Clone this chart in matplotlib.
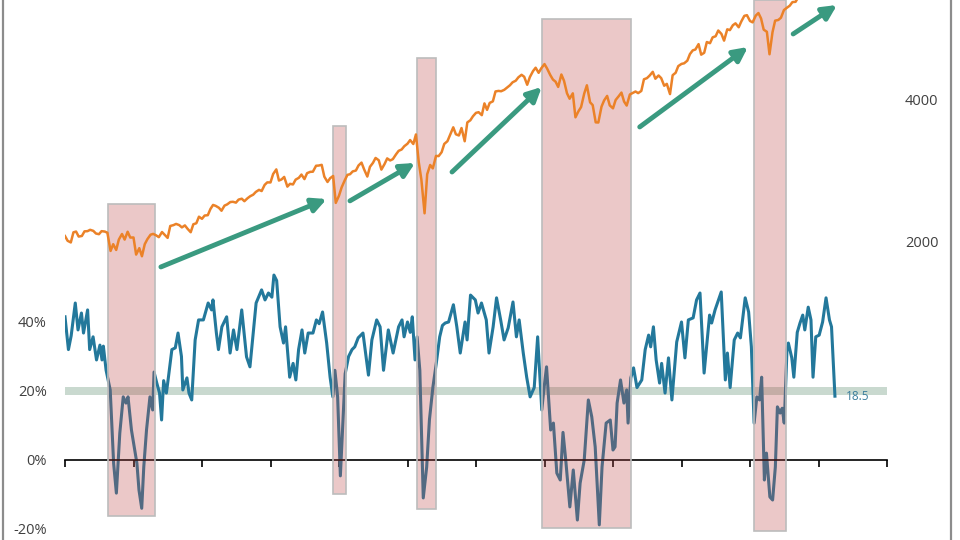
import pandas as pd
import matplotlib
matplotlib.use('Agg')
import matplotlib.pyplot as plt
from matplotlib.lines import Line2D
from matplotlib.ticker import NullLocator, NullFormatter

plt.rcParams['font.family'] = ['Open Sans', 'DejaVu Sans']

# S&P 500, semi-monthly (1st / 15th), starting Jan 2015
spx = [
    2058, 2011, 1995, 2096, 2104, 2053, 2059, 2106, 2108, 2122, 2111, 2084,
    2077, 2108, 2104, 2092, 1914, 1978, 1923, 2023, 2079, 2023, 2102, 2043,
    2044, 1880, 1940, 1865, 1978, 2027, 2072, 2080, 2065, 2047, 2099, 2071,
    2040, 2162, 2171, 2184, 2171, 2147, 2168, 2133, 2097, 2180, 2191, 2262,
    2239, 2275, 2279, 2349, 2396, 2385, 2363, 2329, 2388, 2402, 2430, 2433,
    2423, 2459, 2470, 2440, 2476, 2500, 2519, 2553, 2579, 2564, 2642, 2675,
    2674, 2786, 2850, 2699, 2714, 2747, 2620, 2656, 2648, 2711, 2735, 2779,
    2718, 2798, 2816, 2818, 2901, 2904, 2914, 2751, 2680, 2730, 2760, 2420,
    2507, 2610, 2704, 2775, 2784, 2822, 2834, 2905, 2946, 2850, 2752, 2886,
    2942, 3014, 2980, 2847, 2926, 3007, 2977, 2996, 3067, 3120, 3141, 3191,
    3231, 3289, 3226, 3380, 2954, 2711, 2300, 2783, 2912, 2864, 3044, 3041,
    3100, 3227, 3271, 3373, 3500, 3383, 3363, 3488, 3270, 3585, 3622, 3694,
    3756, 3768, 3714, 3934, 3811, 3943, 3973, 4170, 4181, 4174, 4204, 4247,
    4298, 4360, 4395, 4468, 4523, 4480, 4308, 4471, 4605, 4682, 4567, 4669,
    4766, 4662, 4516, 4419, 4374, 4263, 4530, 4393, 4132, 4024, 4132, 3675,
    3785, 3863, 4130, 4297, 3955, 3901, 3586, 3583, 3872, 3992, 4080, 3895,
    3840, 3999, 4077, 4147, 3970, 3892, 4109, 4137, 4169, 4136, 4180, 4425,
    4450, 4505, 4589, 4437, 4508, 4450, 4288, 4327, 4117, 4514, 4568, 4719,
    4770, 4784, 4846, 5005, 5096, 5117, 5254, 4990, 5036, 5308, 5278, 5431,
    5460, 5615, 5522, 5344, 5648, 5626, 5762, 5815, 5705, 5870, 6032, 6051,
    5882, 5843, 6041, 6115, 5955, 5639, 5580, 5000, 5569, 5892, 5912, 5977,
    6205, 6268, 6339, 6450, 6460, 6600, 6688,
]

# indicator in %, (decimal year, value)
spread = [
    (2015.00, 41.5), (2015.05, 32.0), (2015.09, 36.0), (2015.15, 45.5), (2015.19, 37.7),
    (2015.24, 42.6), (2015.27, 36.8), (2015.33, 43.5), (2015.36, 32.0), (2015.41, 35.7),
    (2015.46, 29.0), (2015.51, 33.3), (2015.54, 29.0), (2015.56, 33.0), (2015.60, 26.0),
    (2015.66, 20.3), (2015.71, -1.0), (2015.75, -9.6), (2015.80, 7.8), (2015.85, 18.3),
    (2015.89, 16.5), (2015.92, 18.3), (2015.97, 8.7),
    (2016.05, -1.0), (2016.08, -8.7), (2016.12, -14.0), (2016.15, -2.0), (2016.19, 8.7),
    (2016.24, 18.3), (2016.28, 14.5), (2016.30, 25.5), (2016.34, 22.3), (2016.38, 19.4),
    (2016.41, 11.6), (2016.44, 23.0), (2016.48, 19.4), (2016.51, 24.0), (2016.56, 32.0),
    (2016.61, 32.5), (2016.65, 36.8), (2016.70, 30.0), (2016.72, 20.3), (2016.78, 23.8),
    (2016.81, 19.4), (2016.85, 17.4), (2016.90, 34.8), (2016.95, 40.6),
    (2017.02, 40.6), (2017.09, 45.5), (2017.14, 43.5), (2017.16, 46.4), (2017.21, 36.8),
    (2017.24, 32.0), (2017.29, 38.6), (2017.36, 41.5), (2017.41, 31.0), (2017.46, 37.7),
    (2017.51, 32.0), (2017.58, 43.5), (2017.65, 29.9), (2017.70, 27.0), (2017.79, 45.5),
    (2017.87, 49.3), (2017.92, 46.4), (2017.97, 48.4),
    (2018.02, 47.2), (2018.05, 53.6), (2018.09, 52.0), (2018.14, 38.6), (2018.19, 33.9),
    (2018.22, 38.6), (2018.26, 29.0), (2018.28, 24.0), (2018.33, 28.0), (2018.37, 23.2),
    (2018.41, 32.0), (2018.46, 37.7), (2018.50, 31.0), (2018.55, 36.8), (2018.62, 36.8),
    (2018.67, 40.6), (2018.71, 39.5), (2018.76, 42.9), (2018.82, 33.9), (2018.87, 24.0),
    (2018.91, 18.3), (2018.94, 26.0), (2018.98, 18.3),
    (2019.02, -4.6), (2019.09, 25.0), (2019.14, 30.0), (2019.19, 32.0), (2019.23, 32.8),
    (2019.28, 35.4), (2019.35, 36.8), (2019.43, 24.6), (2019.48, 34.8), (2019.55, 40.6),
    (2019.60, 38.6), (2019.65, 26.0), (2019.72, 37.7), (2019.79, 31.0), (2019.87, 38.6),
    (2019.92, 40.6), (2019.95, 35.7),
    (2020.00, 40.0), (2020.04, 37.0), (2020.07, 41.5), (2020.11, 29.0), (2020.14, 35.7),
    (2020.18, 26.0), (2020.23, -11.0), (2020.28, -2.0), (2020.32, 11.6), (2020.37, 21.0),
    (2020.42, 28.0), (2020.47, 35.7), (2020.51, 39.0), (2020.55, 39.7), (2020.60, 40.0),
    (2020.67, 45.0), (2020.72, 38.6), (2020.77, 31.0), (2020.84, 40.0), (2020.87, 34.8),
    (2020.92, 47.8), (2020.99, 46.4),
    (2021.03, 42.6), (2021.08, 45.5), (2021.15, 40.6), (2021.19, 31.0), (2021.25, 38.6),
    (2021.30, 47.0), (2021.36, 40.6), (2021.41, 34.8), (2021.47, 38.3), (2021.54, 45.8),
    (2021.59, 35.7), (2021.63, 40.6), (2021.69, 31.0), (2021.74, 24.0), (2021.79, 18.3),
    (2021.85, 21.0), (2021.90, 35.7), (2021.96, 14.5), (2021.99, 20.3),
    (2022.03, 27.0), (2022.09, 8.7), (2022.13, 10.7), (2022.18, -3.8), (2022.23, -5.8),
    (2022.27, 8.0), (2022.31, 0.0), (2022.37, -13.6), (2022.42, -2.9), (2022.48, -17.4),
    (2022.52, -6.7), (2022.58, 0.0), (2022.64, 17.4), (2022.69, 12.5), (2022.74, 3.8),
    (2022.80, -18.8), (2022.84, -2.0), (2022.90, 10.7), (2022.96, 11.6),
    (2023.00, 2.9), (2023.03, 3.8), (2023.06, 16.5), (2023.11, 23.2), (2023.16, 16.5),
    (2023.20, 20.3), (2023.22, 10.7), (2023.26, 23.8), (2023.30, 26.7), (2023.35, 21.0),
    (2023.42, 23.2), (2023.47, 32.0), (2023.52, 36.2), (2023.55, 32.8), (2023.59, 38.6),
    (2023.63, 29.0), (2023.68, 22.3), (2023.71, 28.0), (2023.76, 19.4), (2023.81, 29.6),
    (2023.86, 17.4), (2023.93, 34.2),
    (2024.00, 40.0), (2024.05, 29.6), (2024.10, 40.6), (2024.17, 41.2), (2024.22, 46.4),
    (2024.27, 48.4), (2024.33, 25.2), (2024.41, 42.0), (2024.44, 39.7), (2024.49, 43.5),
    (2024.54, 46.4), (2024.58, 48.7), (2024.64, 23.2), (2024.67, 31.0), (2024.71, 21.0),
    (2024.77, 34.8), (2024.82, 36.8), (2024.86, 35.4), (2024.93, 47.0), (2024.98, 42.9),
    (2025.02, 32.8), (2025.06, 10.7), (2025.10, 18.3), (2025.14, 17.4), (2025.17, 24.0),
    (2025.21, -5.8), (2025.24, 2.0), (2025.29, -10.7), (2025.33, -11.6), (2025.37, -2.0),
    (2025.40, 15.4), (2025.44, 13.6), (2025.47, 15.0), (2025.50, 10.7), (2025.54, 32.0),
    (2025.56, 33.9), (2025.61, 29.6), (2025.64, 24.0), (2025.69, 37.0), (2025.73, 39.7),
    (2025.77, 42.0), (2025.80, 37.7), (2025.85, 44.3), (2025.89, 40.6), (2025.92, 24.0),
    (2025.96, 35.7),
    (2026.01, 36.2), (2026.06, 40.0), (2026.11, 47.0), (2026.16, 40.6), (2026.19, 38.6),
    (2026.24, 18.5),
]
last_label = '18.5'

# shaded stress periods (years) and their extent in % units
boxes_t = [(2015.63, 2016.31), (2018.91, 2019.10), (2020.14, 2020.42),
           (2021.96, 2023.26), (2025.06, 2025.52)]
boxes_v = [(-16.2, 74.2), (-9.9, 96.9), (-14.2, 116.6), (-19.7, 127.7), (-20.6, 140.0)]

# rally arrows: (year, S&P) start -> end
arrows = [((2016.40, 1770), (2018.82, 2466)),
          ((2019.16, 2444), (2020.11, 2941)),
          ((2020.65, 2814), (2021.96, 4262)),
          ((2023.39, 3506), (2024.97, 5181)),
          ((2025.63, 5521), (2026.27, 6360))]

lo, hi = -23.19, 133.33

d = pd.date_range('2015-01-01', periods=len(spx), freq='SMS')
spx_t = d.year + (d.dayofyear - 1) / 365.25
st = [p[0] for p in spread]
sv = [p[1] for p in spread]

fig = plt.figure(figsize=(9.6, 5.4), dpi=100)
ax = fig.add_axes([65 / 960, 0, 822 / 960, 1])
ax2 = ax.twinx()

ax.axhspan(18.8, 21.3, color='#c9d9cf', lw=0, zorder=1)
ax.plot(st, sv, color='#23789b', lw=2.2, zorder=2)
ax.text(2026.4, 18.3, last_label, color='#3a7d9c', fontsize=8.5, va='center', ha='left')
ax.set_xlim(2015, 2027)
ax.set_ylim(lo, hi)

for s in ['top', 'left', 'right']:
    ax.spines[s].set_visible(False)
ax.spines['bottom'].set_position(('data', 0))
ax.spines['bottom'].set_linewidth(1.2)
ax.set_xticks(range(2015, 2028))
ax.tick_params(axis='x', length=5, width=1.2, direction='out', labelbottom=False)
ax.set_yticks([-20, 0, 20, 40])
ax.set_yticklabels(['-20%', '0%', '20%', '40%'])
ax.tick_params(axis='y', length=0, pad=13, labelsize=10.5, labelcolor='#404040')

ax2.plot(spx_t, spx, color='#eb8228', lw=1.8)
ax2.set_yscale('log')
ax2.set_ylim(466.6, 6517)
ax2.set_xlim(2015, 2027)

for (t0, t1), (v0, v1) in zip(boxes_t, boxes_v):
    ax2.axvspan(t0, t1, ymin=(v0 - lo) / (hi - lo), ymax=min((v1 - lo) / (hi - lo), 1.0),
                facecolor=(0.75, 0.29, 0.29, 0.3), edgecolor='#bcbcbc', lw=1.2)

for a, b in arrows:
    ax2.annotate('', xy=b, xytext=a,
                 arrowprops=dict(arrowstyle='-|>,head_length=0.6,head_width=0.3',
                                 color='#3a9a80', lw=3.5, mutation_scale=14,
                                 shrinkA=0, shrinkB=0))

for s in ax2.spines.values():
    s.set_visible(False)
ax2.set_yticks([2000, 4000])
ax2.set_yticklabels(['2000', '4000'])
ax2.yaxis.set_minor_locator(NullLocator())
ax2.yaxis.set_minor_formatter(NullFormatter())
ax2.tick_params(axis='y', length=0, pad=13, labelsize=10.5, labelcolor='#404040')

fig.add_artist(Line2D([2.7 / 960] * 2, [0, 1], color='#8c8c8c', lw=1.6))
fig.add_artist(Line2D([951 / 960] * 2, [0, 1], color='#8c8c8c', lw=1.6))

fig.savefig('out.png', dpi=100)
